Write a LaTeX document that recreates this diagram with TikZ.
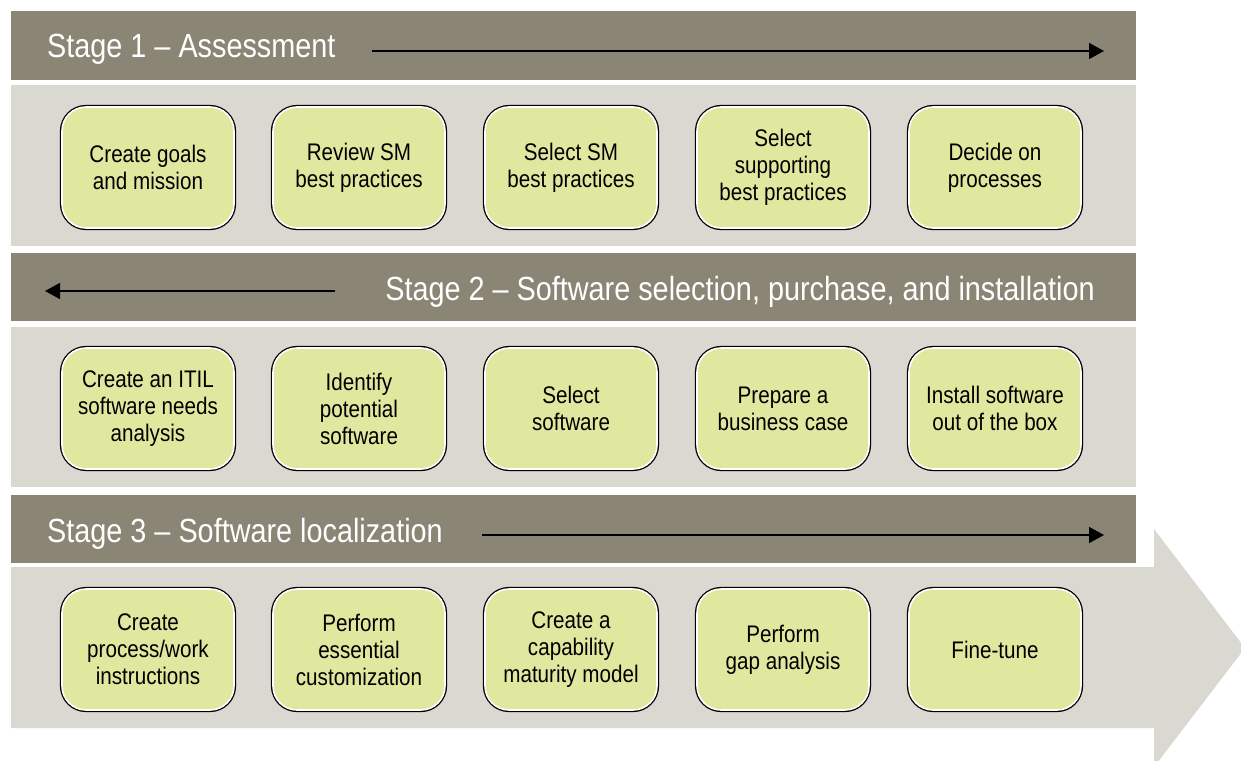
\documentclass[tikz,border=0pt]{standalone}
\usepackage{fontspec}
\setmainfont{Liberation Sans}[FakeStretch=0.86]
\usetikzlibrary{arrows.meta}
\definecolor{hdr}{RGB}{139,133,117}
\definecolor{band}{RGB}{217,216,209}
\definecolor{boxg}{RGB}{224,232,160}
\tikzset{
  hdrband/.style={fill=hdr, draw=none, inner sep=0pt},
  lightband/.style={fill=band, draw=none, inner sep=0pt},
  hdrtext/.style={text=white, font=\fontsize{33.5}{38}\selectfont, inner sep=0pt},
  stagebox/.style={rectangle, rounded corners=24pt, minimum width=172pt, minimum height=121pt,
    fill=boxg, draw=white, line width=1.6pt, preaction={draw=black, line width=4.2pt},
    align=center, font=\fontsize{24}{27}\selectfont, inner sep=0pt, text=black},
  flowarrow/.style={line width=1.5pt, -{Triangle[length=15pt,width=16pt]}}
}
\begin{document}
\begin{tikzpicture}[x=1pt,y=-1pt]
\useasboundingbox (0,0) rectangle (1241,760);
\clip (0,0) rectangle (1241,760);
% bands
\path[hdrband] (11,11) rectangle (1136,80);
\path[lightband] (11,85) rectangle (1136,246);
\path[hdrband] (11,253) rectangle (1136,321);
\path[lightband] (11,327) rectangle (1136,487);
\path[hdrband] (11,495) rectangle (1136,563);
\path[lightband] (11,567) -- (1154,567) -- (1154,529) -- (1245,648) -- (1154,767) -- (1154,728) -- (11,728) -- cycle;
% headers
\node[hdrtext, anchor=base west] (s1) at (47,58) {Stage 1 – Assessment};
\node[hdrtext, anchor=base east] (s2) at (1095,300) {Stage 2 – Software selection, purchase, and installation};
\node[hdrtext, anchor=base west] (s3) at (47,542) {Stage 3 – Software localization};
\coordinate (a1s) at (372,51);
\coordinate (a1e) at (1104,51);
\coordinate (a2s) at (335,291);
\coordinate (a2e) at (45,291);
\coordinate (a3s) at (482,535);
\coordinate (a3e) at (1104,535);
\draw[flowarrow] (a1s) -- (a1e);
\draw[flowarrow] (a2s) -- (a2e);
\draw[flowarrow] (a3s) -- (a3e);
% row 1
\node[stagebox] (b11) at (148,167.5) {Create goals\\and mission};
\node[stagebox] (b12) at (359,167.5) {Review SM\\best practices};
\node[stagebox] (b13) at (571,167.5) {Select SM\\best practices};
\node[stagebox] (b14) at (783,167.5) {Select\\supporting\\best practices};
\node[stagebox] (b15) at (995,167.5) {Decide on\\processes};
% row 2
\node[stagebox] (b21) at (148,408.5) {Create an ITIL\\software needs\\analysis};
\node[stagebox] (b22) at (359,408.5) {Identify\\potential\\software};
\node[stagebox] (b23) at (571,408.5) {Select\\software};
\node[stagebox] (b24) at (783,408.5) {Prepare a\\business case};
\node[stagebox] (b25) at (995,408.5) {Install software\\out of the box};
% row 3
\node[stagebox] (b31) at (148,649.5) {Create\\process/work\\instructions};
\node[stagebox] (b32) at (359,649.5) {Perform\\essential\\customization};
\node[stagebox] (b33) at (571,649.5) {Create a\\capability\\maturity model};
\node[stagebox] (b34) at (783,649.5) {Perform\\gap analysis};
\node[stagebox] (b35) at (995,649.5) {Fine-tune};
\end{tikzpicture}
\end{document}
